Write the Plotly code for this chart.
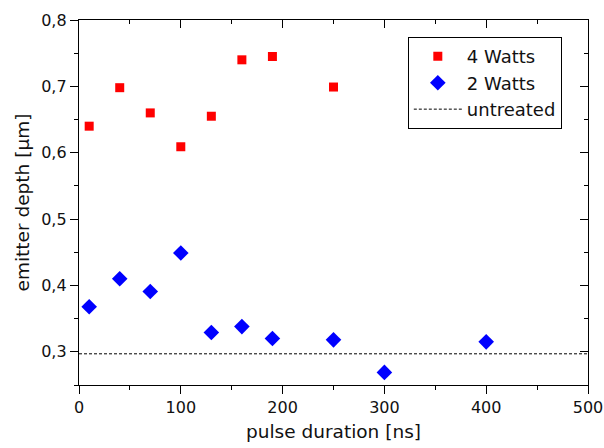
import plotly.graph_objects as go

# ---- data ----
pulse_4w = [10, 40, 70, 100, 130, 160, 190, 250]
depth_4w = [0.640, 0.698, 0.660, 0.609, 0.655, 0.740, 0.745, 0.699]

pulse_2w = [10, 40, 70, 100, 130, 160, 190, 250, 300, 400]
depth_2w = [0.368, 0.410, 0.391, 0.449, 0.329, 0.338, 0.320, 0.318, 0.269, 0.315]

untreated_depth = 0.297

x_range = [0, 500]
y_range = [0.25, 0.8]
x_ticks = [0, 100, 200, 300, 400, 500]
y_ticks = [0.3, 0.4, 0.5, 0.6, 0.7, 0.8]

FONT = "DejaVu Sans, Arial, sans-serif"

fig = go.Figure()

fig.add_trace(go.Scatter(
    x=pulse_4w, y=depth_4w, mode="markers", name="4 Watts",
    marker=dict(symbol="square", size=9, color="#ff0000", line=dict(width=0)),
))
fig.add_trace(go.Scatter(
    x=pulse_2w, y=depth_2w, mode="markers", name="2 Watts",
    marker=dict(symbol="diamond", size=12, color="#0000ff", line=dict(width=0)),
))
fig.add_trace(go.Scatter(
    x=x_range, y=[untreated_depth, untreated_depth], mode="lines", name="untreated",
    line=dict(color="black", width=1, dash="3px,2px"),
))
# invisible helper trace to draw the mirrored (top/right) axes with inward ticks
fig.add_trace(go.Scatter(
    x=pulse_4w, y=depth_4w, mode="markers", xaxis="x2", yaxis="y2",
    marker=dict(opacity=0), showlegend=False, hoverinfo="skip",
))

common_axis = dict(showgrid=False, zeroline=False, showline=True, linecolor="black",
                   linewidth=1.3, tickcolor="black", tickwidth=1.3, automargin=False,
                   tickfont=dict(family=FONT, size=16, color="#111"))

fig.update_layout(
    width=604, height=448,
    margin=dict(l=79, r=16, t=20, b=63),
    paper_bgcolor="white", plot_bgcolor="white",
    separators=", ",
    font=dict(family=FONT, color="#111"),
    xaxis=dict(range=x_range, tickvals=x_ticks, ticks="outside", ticklen=8,
               minor=dict(dtick=50, ticks="outside", ticklen=4, tickcolor="black", tickwidth=1.3),
               title=dict(text="pulse duration [ns]", font=dict(family=FONT, size=18.5, color="#111"), standoff=8),
               **common_axis),
    yaxis=dict(range=y_range, tickvals=y_ticks, tickformat=".1f", ticks="outside", ticklen=8,
               minor=dict(dtick=0.05, ticks="outside", ticklen=4, tickcolor="black", tickwidth=1.3),
               title=dict(text="emitter depth [µm]", font=dict(family=FONT, size=18.5, color="#111"), standoff=6),
               **common_axis),
    xaxis2=dict(range=x_range, tickvals=x_ticks, ticks="inside", ticklen=8, overlaying="x",
                side="top", anchor="y2", showticklabels=False,
                minor=dict(dtick=50, ticks="inside", ticklen=4, tickcolor="black", tickwidth=1.3),
                **common_axis),
    yaxis2=dict(range=y_range, tickvals=y_ticks, ticks="inside", ticklen=8, overlaying="y",
                side="right", anchor="x2", showticklabels=False,
                minor=dict(dtick=0.05, ticks="inside", ticklen=4, tickcolor="black", tickwidth=1.3),
                **common_axis),
    legend=dict(x=0.646, y=0.953, xanchor="left", yanchor="top",
                bordercolor="black", borderwidth=1, bgcolor="white",
                font=dict(family=FONT, size=18, color="#111"),
                itemwidth=48, tracegroupgap=0),
    showlegend=True,
)

fig.write_html("out.html", config={"displayModeBar": False},
               post_script="document.body.style.margin='0';")
